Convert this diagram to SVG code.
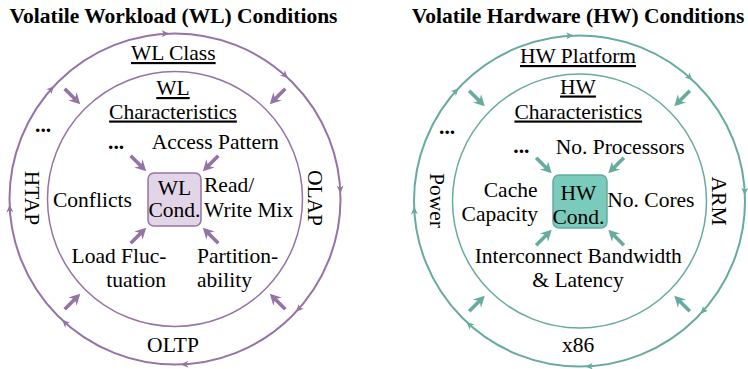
<svg xmlns="http://www.w3.org/2000/svg" xmlns:xlink="http://www.w3.org/1999/xlink" width="748" height="369" viewBox="0 0 748 369">
  <style>
    text { font-family: "Liberation Serif", "Times New Roman", serif; font-size: 21.5px; fill: #000; }
    .title { font-weight: bold; text-anchor: middle; }
    .mid { text-anchor: middle; }
    .end { text-anchor: end; }
    .u { text-decoration: underline; }
    .dots { font-weight: bold; }
    .wl-ring { fill: none; stroke: #9673a6; }
    .hw-ring { fill: none; stroke: #67ab9f; }
    .outer { stroke-width: 2; }
    .inner { stroke-width: 1.5; }
    .wl-fill { fill: #9673a6; }
    .hw-fill { fill: #67ab9f; }
  </style>
  <defs>
    <!-- small tip placed on a ring, points along +x -->
    <path id="tip" d="M0,0 L-7.5,-3.5 L-5.5,0 L-7.5,3.5 Z"/>
    <!-- thick block arrow, tip at origin, points along +x -->
    <path id="thick" d="M0,0 L-11,-5.8 L-8.5,-1.8 L-22,-1.8 L-22,1.8 L-8.5,1.8 L-11,5.8 Z"/>
  </defs>

  <!-- ===================== Workload side ===================== -->
  <text class="title" x="173.5" y="22.5">Volatile Workload (WL) Conditions</text>

  <g id="wl-class-ring">
    <circle class="wl-ring outer" cx="175" cy="199" r="165.5"/>
    <g class="wl-fill">
      <use xlink:href="#tip" transform="translate(175,199) rotate(-92) translate(165.5,0) rotate(90)"/>
      <use xlink:href="#tip" transform="translate(175,199) rotate(-47) translate(165.5,0) rotate(90)"/>
      <use xlink:href="#tip" transform="translate(175,199) rotate(-2) translate(165.5,0) rotate(90)"/>
      <use xlink:href="#tip" transform="translate(175,199) rotate(43) translate(165.5,0) rotate(90)"/>
      <use xlink:href="#tip" transform="translate(175,199) rotate(88) translate(165.5,0) rotate(90)"/>
      <use xlink:href="#tip" transform="translate(175,199) rotate(133) translate(165.5,0) rotate(90)"/>
      <use xlink:href="#tip" transform="translate(175,199) rotate(178) translate(165.5,0) rotate(90)"/>
      <use xlink:href="#tip" transform="translate(175,199) rotate(-137) translate(165.5,0) rotate(90)"/>
    </g>
    <text class="mid u" x="173.3" y="60">WL Class</text>
    <text class="dots" x="35" y="132">...</text>
    <text class="mid" transform="translate(25,198) rotate(90)">HTAP</text>
    <text class="mid" transform="translate(307.5,198) rotate(90)">OLAP</text>
    <text class="mid" x="173" y="351.7">OLTP</text>
  </g>

  <g id="wl-characteristics-ring">
    <circle class="wl-ring inner" cx="175" cy="199" r="127.5"/>
    <text class="mid u" x="173" y="95">WL</text>
    <text class="mid u" x="173" y="118.5">Characteristics</text>
    <text class="dots" x="108" y="148.5">...</text>
    <text x="151.7" y="148.5">Access Pattern</text>
    <text x="53" y="206.7">Conflicts</text>
    <text x="204" y="192">Read/</text>
    <text x="204" y="217">Write Mix</text>
    <text class="end" x="166.5" y="263.3">Load Fluc-</text>
    <text class="end" x="166" y="286.7">tuation</text>
    <text x="197" y="263.3">Partition-</text>
    <text x="197" y="286.7">ability</text>
  </g>

  <g id="wl-condition">
    <rect x="148" y="173" width="53" height="53" rx="6" fill="#e1d5e7" stroke="#9673a6" stroke-width="1.5"/>
    <text class="mid" x="174.5" y="195">WL</text>
    <text class="mid" x="174.5" y="216.7">Cond.</text>
  </g>

  <g id="wl-connectors" class="wl-fill">
    <use xlink:href="#thick" transform="translate(175,199) rotate(-135) translate(134,0) rotate(180)"/>
    <use xlink:href="#thick" transform="translate(175,199) rotate(-45) translate(134,0) rotate(180)"/>
    <use xlink:href="#thick" transform="translate(175,199) rotate(45) translate(134,0) rotate(180)"/>
    <use xlink:href="#thick" transform="translate(175,199) rotate(135) translate(134,0) rotate(180)"/>
    <use xlink:href="#thick" transform="translate(174.5,199.5) rotate(-135) translate(40,0) rotate(180)"/>
    <use xlink:href="#thick" transform="translate(174.5,199.5) rotate(-45) translate(40,0) rotate(180)"/>
    <use xlink:href="#thick" transform="translate(174.5,199.5) rotate(45) translate(40,0) rotate(180)"/>
    <use xlink:href="#thick" transform="translate(174.5,199.5) rotate(135) translate(40,0) rotate(180)"/>
  </g>

  <!-- ===================== Hardware side ===================== -->
  <text class="title" x="578" y="22.5">Volatile Hardware (HW) Conditions</text>

  <g id="hw-platform-ring">
    <circle class="hw-ring outer" cx="579.5" cy="201" r="165.5"/>
    <g class="hw-fill">
      <use xlink:href="#tip" transform="translate(579.5,201) rotate(-92) translate(165.5,0) rotate(90)"/>
      <use xlink:href="#tip" transform="translate(579.5,201) rotate(-47) translate(165.5,0) rotate(90)"/>
      <use xlink:href="#tip" transform="translate(579.5,201) rotate(-2) translate(165.5,0) rotate(90)"/>
      <use xlink:href="#tip" transform="translate(579.5,201) rotate(43) translate(165.5,0) rotate(90)"/>
      <use xlink:href="#tip" transform="translate(579.5,201) rotate(88) translate(165.5,0) rotate(90)"/>
      <use xlink:href="#tip" transform="translate(579.5,201) rotate(133) translate(165.5,0) rotate(90)"/>
      <use xlink:href="#tip" transform="translate(579.5,201) rotate(178) translate(165.5,0) rotate(90)"/>
      <use xlink:href="#tip" transform="translate(579.5,201) rotate(-137) translate(165.5,0) rotate(90)"/>
    </g>
    <text class="mid u" x="578" y="63">HW Platform</text>
    <text class="dots" x="439" y="133.5">...</text>
    <text class="mid" transform="translate(429.5,200.5) rotate(90)">Power</text>
    <text class="mid" transform="translate(712,201) rotate(90)">ARM</text>
    <text class="mid" x="578" y="352">x86</text>
  </g>

  <g id="hw-characteristics-ring">
    <circle class="hw-ring inner" cx="579.5" cy="201" r="127"/>
    <text class="mid u" x="578" y="93.5">HW</text>
    <text class="mid u" x="578.3" y="118.5">Characteristics</text>
    <text class="dots" x="513.3" y="152.5">...</text>
    <text x="555.7" y="153.5">No. Processors</text>
    <text class="end" x="537.5" y="197">Cache</text>
    <text class="end" x="538" y="221">Capacity</text>
    <text x="607.3" y="207">No. Cores</text>
    <text class="mid" x="578.3" y="263.3">Interconnect Bandwidth</text>
    <text class="mid" x="578" y="287">&amp; Latency</text>
  </g>

  <g id="hw-condition">
    <rect x="553" y="175" width="54" height="53" rx="6" fill="#7acbbb" stroke="#67ab9f" stroke-width="1.5"/>
    <text class="mid" x="578.5" y="199.5">HW</text>
    <text class="mid" x="578.5" y="223.5">Cond.</text>
  </g>

  <g id="hw-connectors" class="hw-fill">
    <use xlink:href="#thick" transform="translate(579.5,201) rotate(-135) translate(134,0) rotate(180)"/>
    <use xlink:href="#thick" transform="translate(579.5,201) rotate(-45) translate(134,0) rotate(180)"/>
    <use xlink:href="#thick" transform="translate(579.5,201) rotate(45) translate(134,0) rotate(180)"/>
    <use xlink:href="#thick" transform="translate(579.5,201) rotate(135) translate(134,0) rotate(180)"/>
    <use xlink:href="#thick" transform="translate(580,201.5) rotate(-135) translate(40,0) rotate(180)"/>
    <use xlink:href="#thick" transform="translate(580,201.5) rotate(-45) translate(40,0) rotate(180)"/>
    <use xlink:href="#thick" transform="translate(580,201.5) rotate(45) translate(40,0) rotate(180)"/>
    <use xlink:href="#thick" transform="translate(580,201.5) rotate(135) translate(40,0) rotate(180)"/>
  </g>
</svg>
